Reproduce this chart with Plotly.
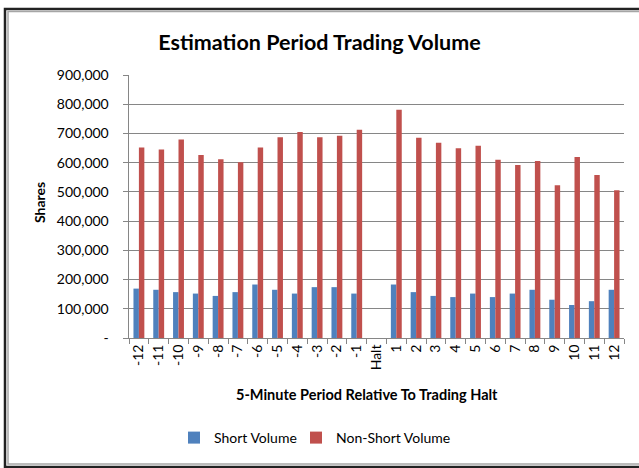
import plotly.graph_objects as go

periods = ["-12", "-11", "-10", "-9", "-8", "-7", "-6", "-5", "-4", "-3", "-2", "-1",
           "Halt", "1", "2", "3", "4", "5", "6", "7", "8", "9", "10", "11", "12"]
short_volume = [169000, 165000, 157000, 152000, 144000, 157000, 183000, 165000, 152000, 174000, 174000, 152000,
                None, 183000, 157000, 144000, 140000, 152000, 140000, 152000, 165000, 131000, 113000, 126000, 165000]
non_short_volume = [652000, 645000, 679000, 626000, 612000, 601000, 652000, 687000, 705000, 687000, 692000, 713000,
                    None, 781000, 685000, 668000, 649000, 658000, 610000, 592000, 606000, 523000, 619000, 558000, 506000]
y_tick_values = [0, 100000, 200000, 300000, 400000, 500000, 600000, 700000, 800000, 900000]
y_tick_labels = ["-", "100,000", "200,000", "300,000", "400,000", "500,000", "600,000", "700,000", "800,000", "900,000"]

FONT = "Lato, Open Sans, sans-serif"
W, H = 639, 468
L, R, T, B = 129, 15, 75, 130
PW, PH = W - L - R, H - T - B
Y_RANGE = [0, 900000]
# transparent trailing pad that sets the value labels a little further from the axis
LABEL_PAD = "<span style='color:rgba(0,0,0,0)'>0.</span>"


def px(x):
    return (x - L) / PW


def py(y):
    return (H - B - y) / PH


fig = go.Figure()
fig.add_trace(go.Bar(name="Short Volume", x=periods, y=short_volume, marker_color="#4F81BD",
                     marker_line_width=0, legend="legend"))
fig.add_trace(go.Bar(name="Non-Short Volume", x=periods, y=non_short_volume, marker_color="#C0504D",
                     marker_line_width=0, legend="legend2"))

# chart frame: dark outer edge with a light inner edge
frame = [
    dict(x0=px(5), x1=px(660), y0=py(467), y1=py(9), color="#222222", width=2.5),
    dict(x0=px(8), x1=px(660), y0=py(464), y1=py(11.5), color="#A6A6A6", width=1.5),
]
for f in frame:
    fig.add_shape(type="rect", xref="paper", yref="paper", x0=f["x0"], x1=f["x1"], y0=f["y0"], y1=f["y1"],
                  line=dict(color=f["color"], width=f["width"]), fillcolor="rgba(0,0,0,0)", layer="above")

# axis titles placed as annotations
fig.add_annotation(text="<b>Shares</b>", xref="paper", yref="paper", x=px(39), y=py(203),
                   xanchor="center", yanchor="middle", textangle=-90, showarrow=False,
                   font=dict(family=FONT, size=14, color="black"))
fig.add_annotation(text="<b>5-Minute Period Relative To Trading Halt</b>", xref="paper", yref="paper",
                   x=px(367), y=py(394), xanchor="center", yanchor="middle", showarrow=False,
                   font=dict(family=FONT, size=14.5, color="black"))

legend_style = dict(orientation="h", xanchor="left", yanchor="middle", y=py(438),
                    font=dict(family=FONT, size=14, color="black"), itemwidth=30,
                    bgcolor="rgba(0,0,0,0)")

fig.update_layout(
    width=W, height=H,
    margin=dict(l=L, r=R, t=T, b=B),
    paper_bgcolor="white", plot_bgcolor="white",
    barmode="group", bargap=0.45, bargroupgap=0.0,
    title=dict(text="<b>Estimation Period Trading Volume</b>", x=0.5, xanchor="center",
               y=1 - 42 / H, yanchor="middle",
               font=dict(family=FONT, size=21.5, color="black")),
    font=dict(family=FONT, size=14, color="black"),
    showlegend=True,
    legend=dict(x=px(174), **legend_style),
    legend2=dict(x=px(296), **legend_style),
    xaxis=dict(type="category", tickangle=-90, ticks="outside", tickson="boundaries", ticklen=5,
               tickcolor="#868686", showline=True, linecolor="#868686", linewidth=1,
               showgrid=False, tickfont=dict(family=FONT, size=14, color="black")),
    yaxis=dict(range=Y_RANGE, tickvals=y_tick_values,
               ticktext=[t + LABEL_PAD for t in y_tick_labels],
               ticks="outside", ticklen=5, tickcolor="#868686", showline=True, linecolor="#868686",
               linewidth=1, showgrid=True, gridcolor="#868686", gridwidth=1, zeroline=False,
               tickfont=dict(family=FONT, size=14, color="black")),
)

fig.write_html("out.html")
